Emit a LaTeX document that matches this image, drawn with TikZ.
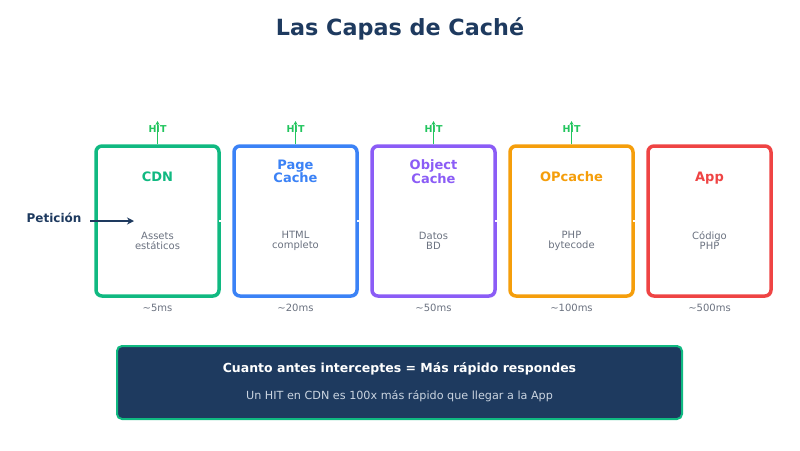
\documentclass[tikz,border=0pt]{standalone}
\usepackage{fontspec}
\setmainfont{DejaVu Sans}
\usetikzlibrary{arrows.meta}
\definecolor{navy}{HTML}{1E3A5F}
\definecolor{cgreen}{HTML}{10B981}
\definecolor{cblue}{HTML}{3B82F6}
\definecolor{cpurple}{HTML}{8B5CF6}
\definecolor{corange}{HTML}{F59E0B}
\definecolor{cred}{HTML}{EF4444}
\definecolor{hitgreen}{HTML}{22C55E}
\definecolor{txtgray}{HTML}{6B7280}
\definecolor{subtxt}{HTML}{CBD5E1}
\tikzset{
  layer/.style={draw=#1, line width=3.5pt, rounded corners=6pt, minimum width=123pt, minimum height=150pt, inner sep=0pt},
  ltitle/.style={text=#1, font=\fontsize{13}{12.5}\selectfont\bfseries, align=center, inner sep=0pt},
  ldesc/.style={text=txtgray, font=\fontsize{10}{9.5}\selectfont, align=center, inner sep=0pt},
  llat/.style={text=txtgray, font=\fontsize{10}{12}\selectfont, inner sep=0pt},
  hitlbl/.style={text=hitgreen, font=\fontsize{9.5}{11}\selectfont\bfseries, inner sep=0pt},
  hitarrow/.style={draw=hitgreen, line width=1.3pt, -{Stealth[length=4pt,width=4pt]}},
  link/.style={draw=white, line width=2.5pt, shorten <=-2pt, shorten >=2pt}
}
\begin{document}
\begin{tikzpicture}[x=1pt,y=-1pt]
\useasboundingbox[fill=white] (0,0) rectangle (800,450);

\node[text=navy, font=\fontsize{22.3}{26}\selectfont\bfseries] (title) at (400,29) {Las Capas de Caché};

% layers
\node[layer=cgreen] (b1) at (157.5,221) {};
\node[layer=cblue] (b2) at (295.5,221) {};
\node[layer=cpurple] (b3) at (433.5,221) {};
\node[layer=corange] (b4) at (571.5,221) {};
\node[layer=cred] (b5) at (709.5,221) {};

\draw[link] (b1.east) -- (b2.west);
\draw[link] (b2.east) -- (b3.west);
\draw[link] (b3.east) -- (b4.west);
\draw[link] (b4.east) -- (b5.west);

\node[ltitle=cgreen, anchor=base] (t1) at (157.5,181.2) {CDN};
\node[ltitle=cblue] (t2) at (295.5,171.5) {Page\\Cache};
\node[ltitle=cpurple] (t3) at (433.5,171.5) {Object\\Cache};
\node[ltitle=corange, anchor=base] (t4) at (571.5,181.2) {OPcache};
\node[ltitle=cred, anchor=base] (t5) at (709.5,181.2) {App};

\node[ldesc] (d1) at (157.5,241) {Assets\\estáticos};
\node[ldesc] (d2) at (295.5,241) {HTML\\completo};
\node[ldesc] (d3) at (433.5,241) {Datos\\BD};
\node[ldesc] (d4) at (571.5,241) {PHP\\bytecode};
\node[ldesc] (d5) at (709.5,240.5) {Código\\PHP};

\node[llat] (l1) at (157.5,307.5) {\textasciitilde5ms};
\node[llat] (l2) at (295.5,307.5) {\textasciitilde20ms};
\node[llat] (l3) at (433.5,307.5) {\textasciitilde50ms};
\node[llat] (l4) at (571.5,307.5) {\textasciitilde100ms};
\node[llat] (l5) at (709.5,307.5) {\textasciitilde500ms};

% HIT markers
\foreach \b/\x in {1/157.5,2/295.5,3/433.5,4/571.5}{
  \node[hitlbl] (h\b) at (\x,129) {HIT};
  \coordinate (ht\b) at (\x,121);
  \draw[hitarrow] (b\b.north) -- (ht\b);
}

% request
\node[text=navy, font=\fontsize{12}{14}\selectfont\bfseries, inner sep=0pt] (req) at (54,217.5) {Petición};
\coordinate (rs) at (90,221);
\coordinate (re) at (134,221);
\draw[navy, line width=2pt, -{Stealth[length=7pt,width=7pt]}] (rs) -- (re);

% summary
\node[fill=navy, draw=cgreen, line width=2pt, rounded corners=5pt, minimum width=565pt, minimum height=73pt] (sum) at (399.5,382.5) {};
\node[text=white, font=\fontsize{12.5}{14}\selectfont\bfseries, inner sep=0pt] (s1) at (399.5,368.5) {Cuanto antes interceptes = Más rápido respondes};
\node[text=subtxt, font=\fontsize{11.2}{13}\selectfont, inner sep=0pt] (s2) at (399.5,396) {Un HIT en CDN es 100x más rápido que llegar a la App};
\end{tikzpicture}
\end{document}
